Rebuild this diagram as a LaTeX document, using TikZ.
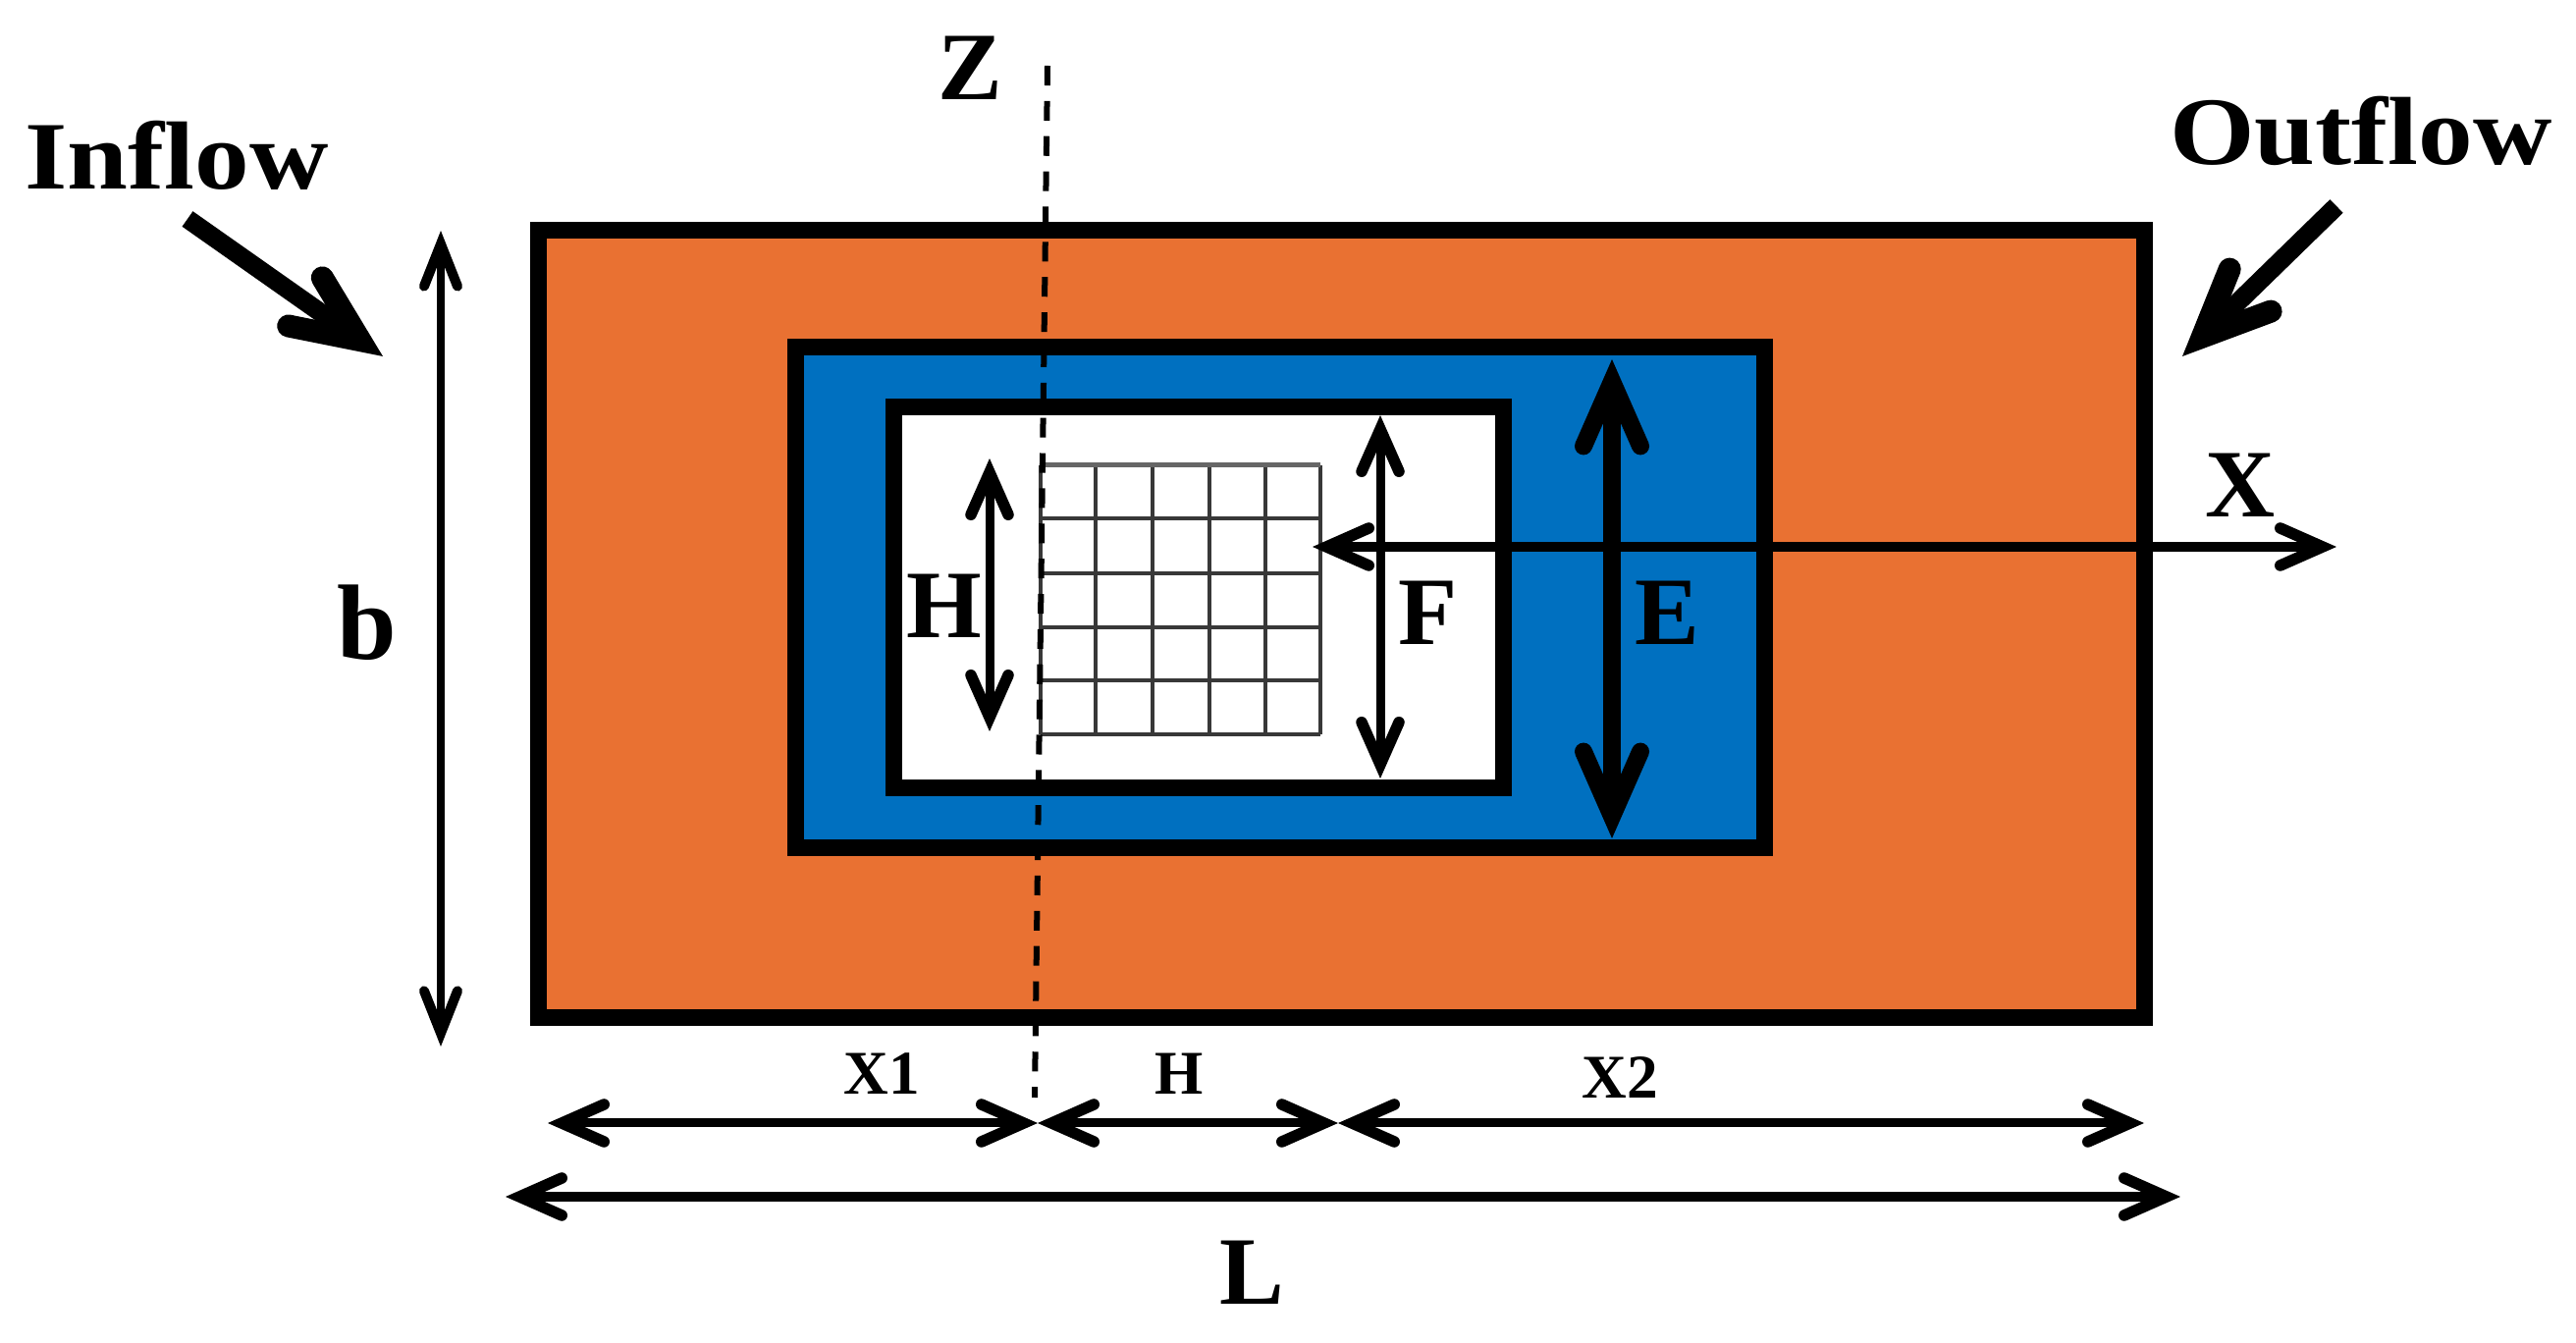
\documentclass[tikz,border=0pt]{standalone}
\usepackage{fontspec}
\usetikzlibrary{arrows.meta}
\setmainfont{Liberation Serif}
\newfontfamily\widefont[FakeStretch=1.13]{Liberation Serif}
\definecolor{fluidorange}{RGB}{233,113,50}
\definecolor{fluidblue}{RGB}{0,112,192}
\tikzset{
  x=0.01cm,y=-0.01cm,
  frame/.style={draw=black,line width=0.17cm,inner sep=0pt,outer sep=0pt},
  gridline/.style={draw=black!78,line width=0.04cm},
  tipsmall/.tip={Straight Barb[length=0.43cm,width=0.38cm,line width=0.115cm,line cap=round,line join=miter]},
  tipthin/.tip={Straight Barb[length=0.43cm,width=0.34cm,line width=0.10cm,line cap=round,line join=miter]},
  dimline/.style={draw=black,line width=0.09cm,{tipsmall}-{tipsmall}},
  thindim/.style={draw=black,line width=0.08cm,{tipthin}-{tipthin}},
  axisline/.style={draw=black,line width=0.10cm,{tipsmall}-{tipsmall}},
  tipbig/.tip={Straight Barb[length=0.66cm,width=0.58cm,line width=0.18cm,line cap=round,line join=miter]},
  bigdim/.style={draw=black,line width=0.18cm,{tipbig}-{tipbig}},
  tipflow/.tip={Straight Barb[length=0.68cm,width=0.60cm,line width=0.23cm,line cap=round,line join=miter]},
  flowarrow/.style={draw=black,line width=0.19cm,-{tipflow}},
  zaxis/.style={draw=black,line width=0.06cm,dash pattern=on 5.7pt off 4.5pt},
  biglabel/.style={anchor=base,inner sep=0pt,outer sep=0pt,font=\fontsize{28}{28}\selectfont\bfseries},
  widelabel/.style={anchor=base,inner sep=0pt,outer sep=0pt,font=\fontsize{28}{28}\widefont\bfseries},
  blabel/.style={anchor=base,inner sep=0pt,outer sep=0pt,font=\fontsize{31}{31}\selectfont\bfseries},
  smalllabel/.style={anchor=base,inner sep=0pt,outer sep=0pt,font=\fontsize{18}{18}\selectfont\bfseries},
}
\begin{document}
\begin{tikzpicture}
\useasboundingbox (0,0) rectangle (2624,1368);
% frames
\node[frame,fill=fluidorange,minimum width=16.35cm,minimum height=8.01cm] (outer) at (1366.5,635.5) {};
\node[frame,fill=fluidblue,minimum width=9.86cm,minimum height=5.10cm] (middle) at (1304,608.5) {};
\node[frame,fill=white,minimum width=6.20cm,minimum height=3.87cm] (inner) at (1221,608.5) {};
% grid
\foreach \gx in {1060,1116,1174,1232,1289,1345}
  \draw[gridline] (\gx,474) -- (\gx,748);
\foreach \gy in {528,584,639,693,748}
  \draw[gridline] (1060,\gy) -- (1345,\gy);
\draw[draw=black!60,line width=0.05cm] (1060,474) -- (1345,474);
% named ends
\coordinate (hT) at (1008,467); \coordinate (hB) at (1008,745);
\coordinate (fT) at (1406,423); \coordinate (fB) at (1406,793);
\coordinate (eT) at (1642,366); \coordinate (eB) at (1642,854);
\coordinate (xL) at (1337,557); \coordinate (xR) at (2380,557);
\coordinate (bT) at (449,235); \coordinate (bB) at (449,1066);
\coordinate (dA) at (558,1144); \coordinate (dB) at (1057,1144);
\coordinate (dC) at (1363,1144); \coordinate (dD) at (2184,1144);
\coordinate (lA) at (515,1219); \coordinate (lB) at (2221,1219);
\coordinate (inS) at (191,223); \coordinate (inE) at (390,363);
\coordinate (outS) at (2380,210); \coordinate (outE) at (2223,363);
\coordinate (zT) at (1067,67); \coordinate (zB) at (1054,1118);
% connectors
\draw[zaxis] (zT) -- (zB);
\draw[dimline] (hT) -- (hB);
\draw[dimline] (fT) -- (fB);
\draw[bigdim] (eT) -- (eB);
\draw[axisline] (xL) -- (xR);
\draw[thindim] (bT) -- (bB);
\draw[dimline] (dA) -- (dB);
\draw[dimline] (dB) -- (dC);
\draw[dimline] (dC) -- (dD);
\draw[dimline] (lA) -- (lB);
\draw[flowarrow] (inS) -- (inE);
\draw[flowarrow] (outS) -- (outE);
% labels
\node[biglabel] (zlab) at (988,102) {Z};
\node[widelabel] (inlab) at (180,193) {Inflow};
\node[widelabel] (outlab) at (2405,168) {Outflow};
\node[blabel] (blab) at (374,672) {b};
\node[biglabel] (hlab) at (962,650) {H};
\node[biglabel] (flab) at (1455,657) {F};
\node[biglabel] (elab) at (1698,657) {E};
\node[biglabel] (xlab) at (2282,527) {X};
\node[biglabel] (llab) at (1275,1329) {L};
\node[smalllabel] (xonelab) at (898,1115) {X1};
\node[smalllabel] (hsmall) at (1201,1115) {H};
\node[smalllabel] (xtwolab) at (1650,1119) {X2};
\end{tikzpicture}
\end{document}
